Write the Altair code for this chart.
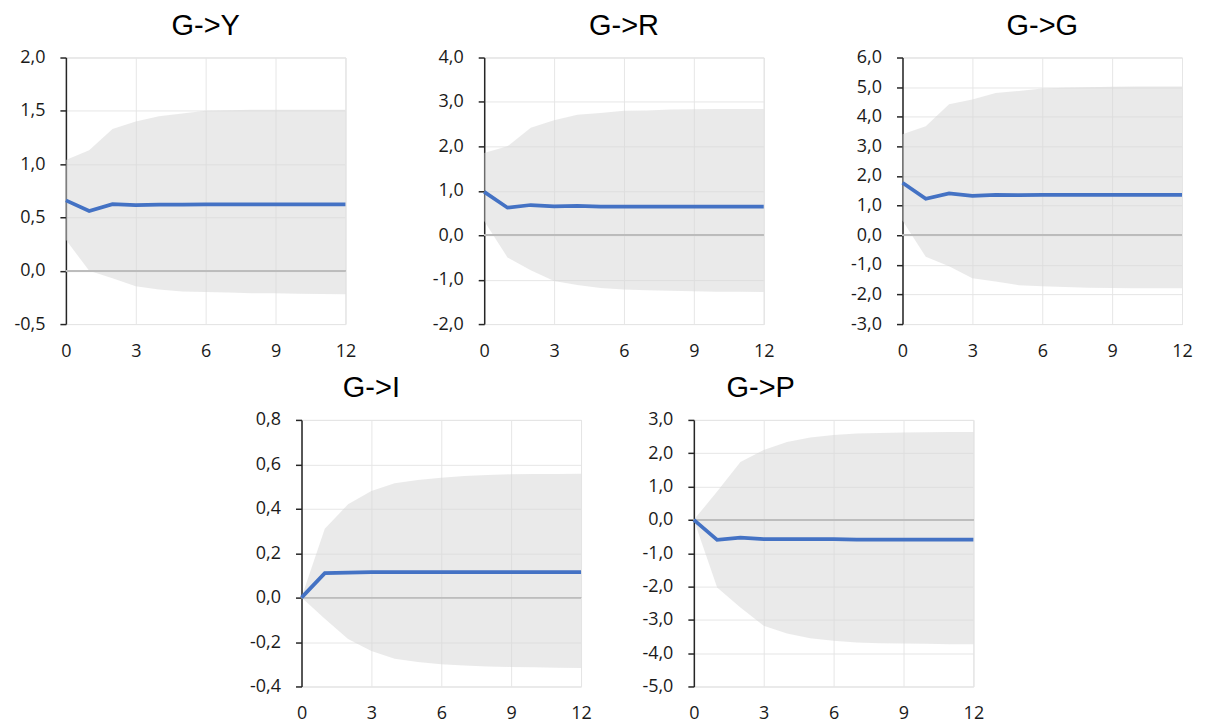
import altair as alt
import pandas as pd

horizon = list(range(13))
x_ticks = [0, 3, 6, 9, 12]

# G->Y
y_resp = [0.66, 0.56, 0.625, 0.615, 0.62, 0.62, 0.622, 0.622, 0.622, 0.622, 0.622, 0.622, 0.622]
y_upper = [1.04, 1.13, 1.33, 1.40, 1.45, 1.475, 1.50, 1.505, 1.51, 1.51, 1.51, 1.51, 1.51]
y_lower = [0.29, 0.0, -0.07, -0.145, -0.175, -0.195, -0.20, -0.205, -0.21, -0.212, -0.215, -0.218, -0.22]
y_ticks = [-0.5, 0.0, 0.5, 1.0, 1.5, 2.0]

# G->R
r_resp = [0.975, 0.62, 0.68, 0.65, 0.66, 0.645, 0.645, 0.645, 0.645, 0.645, 0.645, 0.645, 0.645]
r_upper = [1.85, 2.0, 2.42, 2.59, 2.71, 2.75, 2.80, 2.81, 2.83, 2.835, 2.84, 2.84, 2.84]
r_lower = [0.32, -0.5, -0.79, -1.03, -1.12, -1.19, -1.22, -1.24, -1.25, -1.26, -1.27, -1.275, -1.28]
r_ticks = [-2.0, -1.0, 0.0, 1.0, 2.0, 3.0, 4.0]

# G->G
g_resp = [1.77, 1.23, 1.41, 1.33, 1.36, 1.35, 1.36, 1.36, 1.36, 1.36, 1.36, 1.36, 1.36]
g_upper = [3.41, 3.68, 4.42, 4.58, 4.80, 4.87, 4.95, 4.98, 5.0, 5.01, 5.02, 5.02, 5.02]
g_lower = [0.5, -0.73, -1.05, -1.45, -1.56, -1.69, -1.72, -1.75, -1.77, -1.78, -1.79, -1.79, -1.79]
g_ticks = [-3.0, -2.0, -1.0, 0.0, 1.0, 2.0, 3.0, 4.0, 5.0, 6.0]

# G->I
i_resp = [0.0, 0.11, 0.1125, 0.115, 0.115, 0.115, 0.115, 0.115, 0.115, 0.115, 0.115, 0.115, 0.115]
i_upper = [0.0, 0.31, 0.42, 0.48, 0.515, 0.53, 0.54, 0.548, 0.552, 0.555, 0.556, 0.557, 0.558]
i_lower = [0.0, -0.095, -0.186, -0.24, -0.275, -0.29, -0.30, -0.306, -0.31, -0.312, -0.314, -0.316, -0.317]
i_ticks = [-0.4, -0.2, 0.0, 0.2, 0.4, 0.6, 0.8]

# G->P
p_resp = [0.0, -0.6, -0.53, -0.58, -0.58, -0.58, -0.58, -0.59, -0.59, -0.59, -0.59, -0.59, -0.59]
p_upper = [0.0, 0.85, 1.74, 2.10, 2.34, 2.47, 2.55, 2.59, 2.61, 2.62, 2.63, 2.64, 2.64]
p_lower = [0.0, -2.03, -2.63, -3.18, -3.41, -3.55, -3.63, -3.68, -3.70, -3.71, -3.72, -3.73, -3.73]
p_ticks = [-5.0, -4.0, -3.0, -2.0, -1.0, 0.0, 1.0, 2.0, 3.0]

LABEL_FONT = "Open Sans"
TITLE_FONT = "Liberation Sans"
W, H = 280, 267

label_expr = "replace(replace(format(datum.value, '.1f'), '.', ','), '\u2212', '-')"


def panel(title, resp, lower, upper, ticks, title_dx=0):
    df = pd.DataFrame({"h": horizon, "resp": resp, "lo": lower, "hi": upper})
    xs = alt.Scale(domain=[0, 12], nice=False, zero=False)
    ys = alt.Scale(domain=[ticks[0], ticks[-1]], nice=False, zero=False)
    x_axis = alt.Axis(values=x_ticks, format="d", domain=False, ticks=False, grid=True,
                      gridColor="#e6e6e6", labelPadding=18, title=None,
                      labelFont=LABEL_FONT, labelFontSize=18, labelColor="#1a1a1a",
                      labelAngle=0, labelOverlap=False, labelFlush=False)
    y_axis = alt.Axis(values=ticks, tickCount=20, domain=True, domainColor="#262626",
                      domainWidth=1.5, ticks=True, tickColor="#262626", tickSize=6,
                      tickWidth=1.5, grid=True, gridColor="#e6e6e6", labelPadding=15,
                      title=None, labelFont=LABEL_FONT, labelFontSize=18,
                      labelColor="#1a1a1a", labelExpr=label_expr, labelOverlap=False,
                      labelFlush=False)
    base = alt.Chart(df)
    band = base.mark_area(color="#d6d6d6", opacity=0.5).encode(
        x=alt.X("h:Q", scale=xs, axis=x_axis),
        y=alt.Y("lo:Q", scale=ys, axis=y_axis),
        y2="hi:Q",
    )
    zero = base.mark_rule(color="#bdbdbd", strokeWidth=1).encode(
        y=alt.datum(0)
    )
    line = base.mark_line(color="#4472C4", strokeWidth=3.75).encode(
        x=alt.X("h:Q", scale=xs),
        y=alt.Y("resp:Q", scale=ys),
    )
    return alt.layer(band, zero, line).properties(
        width=W, height=H,
        title=alt.TitleParams(title, font=TITLE_FONT, fontSize=29, fontWeight="normal",
                              color="#000000", offset=8, anchor="middle", dx=title_dx),
    )


placeholder = alt.Chart(pd.DataFrame({"a": [0]})).mark_point(opacity=0).encode(
    x=alt.X("a:Q", axis=None), y=alt.Y("a:Q", axis=None)
).properties(width=123, height=H, view=alt.ViewBackground(strokeOpacity=0, stroke="transparent"))

top = alt.hconcat(
    panel("G->Y", y_resp, y_lower, y_upper, y_ticks),
    panel("G->R", r_resp, r_lower, r_upper, r_ticks),
    panel("G->G", g_resp, g_lower, g_upper, g_ticks),
    spacing=139, bounds="flush",
).resolve_scale(y="independent")

bottom = alt.hconcat(
    placeholder,
    panel("G->I", i_resp, i_lower, i_upper, i_ticks, title_dx=-70),
    panel("G->P", p_resp, p_lower, p_upper, p_ticks, title_dx=-73),
    spacing=113, bounds="flush",
).resolve_scale(y="independent")

chart = alt.vconcat(top, bottom, spacing=12).properties(
    padding={"top": 2, "left": 5, "right": 5, "bottom": 2}
).configure_view(
    stroke="transparent", strokeWidth=0
).configure(background="white")

chart.save("out.html", embed_options={"renderer": "svg", "actions": False})
